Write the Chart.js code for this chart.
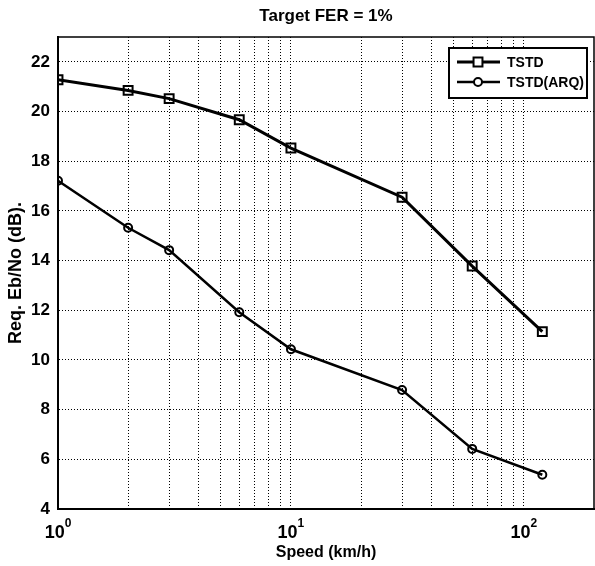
<!DOCTYPE html>
<html>
<head>
<meta charset="utf-8">
<script src="https://cdn.jsdelivr.net/npm/chart.js@4.4.1/dist/chart.umd.min.js"></script>
<style>
  html, body { margin: 0; padding: 0; background: #fff; }
  #wrap { width: 595px; height: 566px; }
</style>
</head>
<body>
<div id="wrap"><canvas id="ferChart"></canvas></div>
<script>
// values (Target FER = 1%)
const speeds = [1, 2, 3, 6, 10, 30, 60, 120];
const tstd = [21.28, 20.85, 20.52, 19.67, 18.53, 16.55, 13.78, 11.14];
const tstdArq = [17.21, 15.32, 14.42, 11.92, 10.43, 8.79, 6.42, 5.38];

const xTicks = [1, 2, 3, 4, 5, 6, 7, 8, 9, 10, 20, 30, 40, 50, 60, 70, 80, 90, 100];
const yTicks = [4, 6, 8, 10, 12, 14, 16, 18, 20, 22];

const FONT = "'Liberation Sans', Arial, sans-serif";

const toPoints = (ys) => speeds.map((s, i) => ({ x: s, y: ys[i] }));

// 10^n labels with a raised exponent, like matlab draws them
const powerLabels = {
  id: "powerLabels",
  afterDraw(chart) {
    const { ctx } = chart;
    const xs = chart.scales.x;
    ctx.save();
    ctx.fillStyle = "#000";
    ctx.textBaseline = "alphabetic";
    xs.ticks.forEach((t) => {
      const e = Math.log10(t.value);
      if (!Number.isInteger(e)) return;
      const px = xs.getPixelForValue(t.value);
      ctx.font = "bold 18px " + FONT;
      const wb = ctx.measureText("10").width;
      ctx.font = "bold 12px " + FONT;
      const we = ctx.measureText(String(e)).width;
      const x0 = px - (wb + we) / 2;
      ctx.font = "bold 18px " + FONT;
      ctx.fillText("10", x0, xs.top + 29);
      ctx.font = "bold 12px " + FONT;
      ctx.fillText(String(e), x0 + wb, xs.top + 18);
    });
    ctx.restore();
  }
};

// legend box drawn inside the plot, top right + the axes frame
const boxLegend = {
  id: "boxLegend",
  afterDraw(chart) {
    const { ctx, chartArea } = chart;
    ctx.save();
    ctx.strokeStyle = "#000";
    ctx.lineWidth = 1.5;
    ctx.strokeRect(chartArea.left, chartArea.top, chartArea.right - chartArea.left, chartArea.bottom - chartArea.top);

    const w = 138, h = 50;
    const x0 = chartArea.right - 7 - w;
    const y0 = chartArea.top + 11;
    ctx.fillStyle = "#fff";
    ctx.fillRect(x0, y0, w, h);
    ctx.lineWidth = 2;
    ctx.strokeRect(x0, y0, w, h);

    ctx.font = "bold 14px " + FONT;
    ctx.textBaseline = "middle";
    chart.data.datasets.forEach((ds, i) => {
      const cy = y0 + 14 + i * 20;
      ctx.strokeStyle = "#000";
      ctx.lineWidth = ds.borderWidth;
      ctx.beginPath();
      ctx.moveTo(x0 + 8, cy);
      ctx.lineTo(x0 + 51, cy);
      ctx.stroke();
      ctx.fillStyle = "#fff";
      ctx.lineWidth = ds.pointBorderWidth;
      Chart.helpers.drawPoint(ctx, {
        pointStyle: ds.pointStyle,
        radius: ds.pointRadius,
        borderWidth: ds.pointBorderWidth,
        rotation: 0
      }, x0 + 29, cy);
      ctx.fillStyle = "#000";
      ctx.fillText(ds.label, x0 + 58, cy + 1);
    });
    ctx.restore();
  }
};

new Chart(document.getElementById("ferChart"), {
  type: "line",
  data: {
    datasets: [
      {
        label: "TSTD",
        data: toPoints(tstd),
        borderColor: "#000",
        borderWidth: 3,
        pointStyle: "rect",
        pointRadius: 6.3,
        pointBorderWidth: 2,
        pointBorderColor: "#000",
        pointBackgroundColor: "rgba(0,0,0,0)",
        tension: 0
      },
      {
        label: "TSTD(ARQ)",
        data: toPoints(tstdArq),
        borderColor: "#000",
        borderWidth: 2.5,
        pointStyle: "circle",
        pointRadius: 4,
        pointBorderWidth: 2,
        pointBorderColor: "#000",
        pointBackgroundColor: "rgba(0,0,0,0)",
        tension: 0
      }
    ]
  },
  options: {
    responsive: true,
    maintainAspectRatio: false,
    animation: false,
    layout: { autoPadding: false, padding: { left: 0, right: 1, top: 0, bottom: 0 } },
    plugins: {
      legend: { display: false },
      tooltip: { enabled: false },
      title: {
        display: true,
        text: "Target FER = 1%",
        fullSize: false,
        color: "#000",
        font: { family: FONT, size: 17, weight: "bold" },
        padding: { top: 6, bottom: 10.6 }
      }
    },
    scales: {
      x: {
        type: "logarithmic",
        min: 1,
        max: 200,
        afterBuildTicks: (scale) => {
          scale.ticks = xTicks.map((v) => ({ value: v }));
        },
        afterFit: (scale) => {
          scale.height = 57;
          scale.paddingLeft = 0;
          scale.paddingRight = 0;
        },
        ticks: { display: false, autoSkip: false },
        grid: {
          color: "#000",
          lineWidth: 1,
          drawTicks: false
        },
        border: { color: "#000", width: 2, dash: [1, 2] },
        title: {
          display: true,
          text: "Speed (km/h)",
          color: "#000",
          font: { family: FONT, size: 16, weight: "bold" },
          padding: { top: 0, bottom: 4 }
        }
      },
      y: {
        min: 4,
        max: 23,
        afterBuildTicks: (scale) => {
          scale.ticks = yTicks.map((v) => ({ value: v }));
        },
        afterFit: (scale) => { scale.width = 58; },
        ticks: {
          padding: 8,
          color: "#000",
          font: { family: FONT, size: 17, weight: "bold" }
        },
        grid: {
          color: "#000",
          lineWidth: 1,
          drawTicks: false
        },
        border: { color: "#000", width: 2, dash: [1, 2] },
        title: {
          display: true,
          text: "Req. Eb/No (dB).",
          color: "#000",
          font: { family: FONT, size: 18, weight: "bold" },
          padding: { top: 5, bottom: 0 }
        }
      }
    }
  },
  plugins: [powerLabels, boxLegend]
});
</script>
</body>
</html>
